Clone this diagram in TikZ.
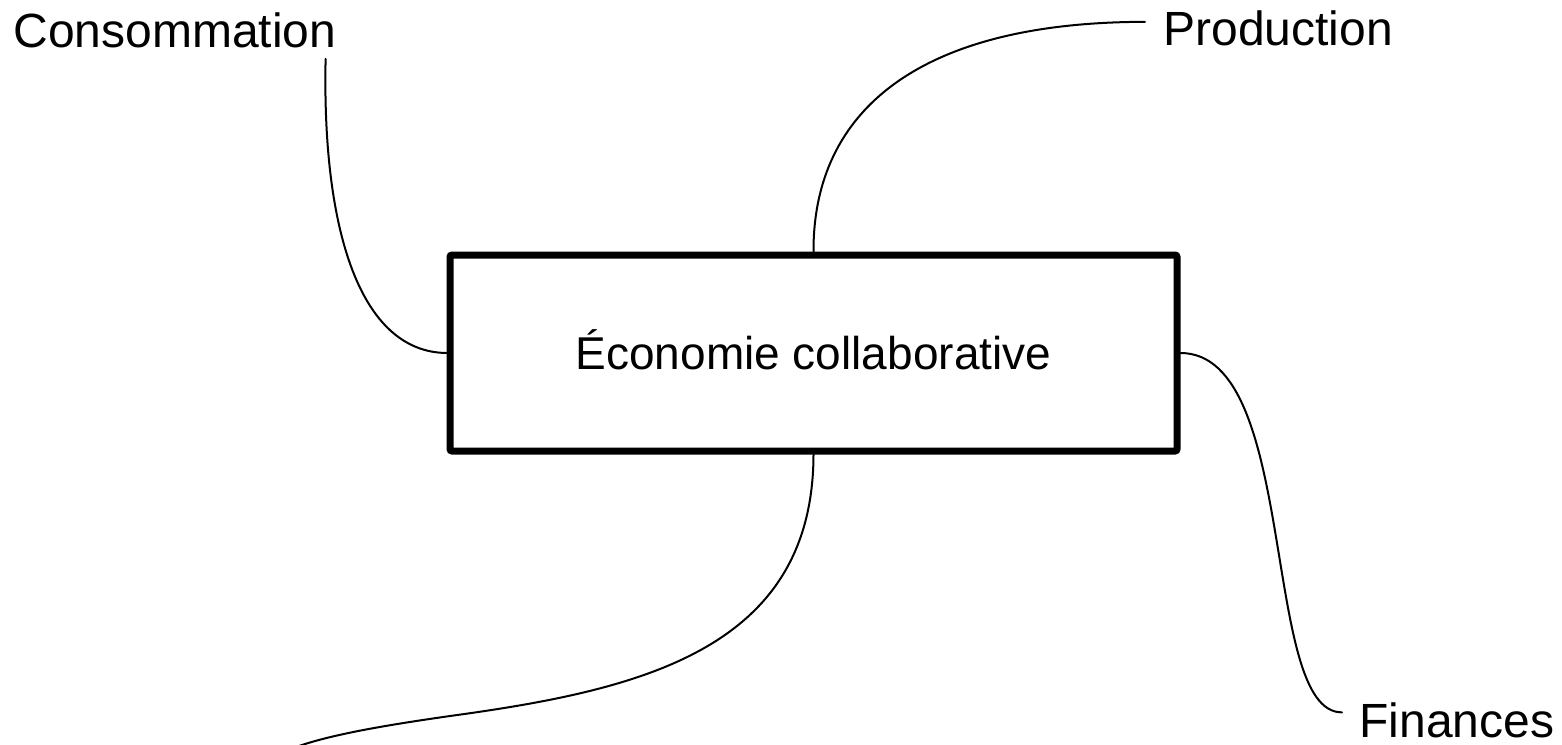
\documentclass[tikz,border=0pt]{standalone}
\usepackage{fontspec}
\setmainfont{Liberation Sans}
\begin{document}
\begin{tikzpicture}[x=0.5pt,y=-0.5pt,
  lbl/.style={font=\fontsize{24pt}{28pt}\selectfont, inner sep=0pt, anchor=base west},
  conn/.style={line width=1pt, line cap=round},
  hub/.style={draw, line width=3.5pt, rounded corners=1pt, minimum width=363.5pt,
    minimum height=98pt, inner sep=0pt, text height=16.5pt, text depth=0pt,
    font=\fontsize{23pt}{27pt}\selectfont}]
\useasboundingbox (0,0) rectangle (1562,744);
\fill[white] (0,0) rectangle (1562,744);
% labels
\node[lbl] (cons) at (13,47) {Consommation};
\node[lbl] (prod) at (1163,45) {Production};
\node[lbl] (fin) at (1359,737) {Finances};
\coordinate (low) at (296,747);
% connector ends next to the labels
\coordinate (consend) at ([shift={(-11,11)}]cons.south east);
\coordinate (prodend) at ([shift={(-18,-6)}]prod.west);
\coordinate (finend) at ([shift={(-17,-7.5)}]fin.west);
\node[hub] (box) at (813.5,353) {Économie collaborative};
\draw[conn] (box.west) .. controls (360,352) and (322,230) .. (consend);
\draw[conn] (box.north) .. controls (813,110) and (920,22) .. (prodend);
\draw[conn] (box.east) .. controls (1300,353) and (1260,713) .. (finend);
\draw[conn] (box.south) .. controls (813,650) and (640,690) .. (450,716)
  .. controls (380,726) and (330,735) .. (low);
\end{tikzpicture}
\end{document}
